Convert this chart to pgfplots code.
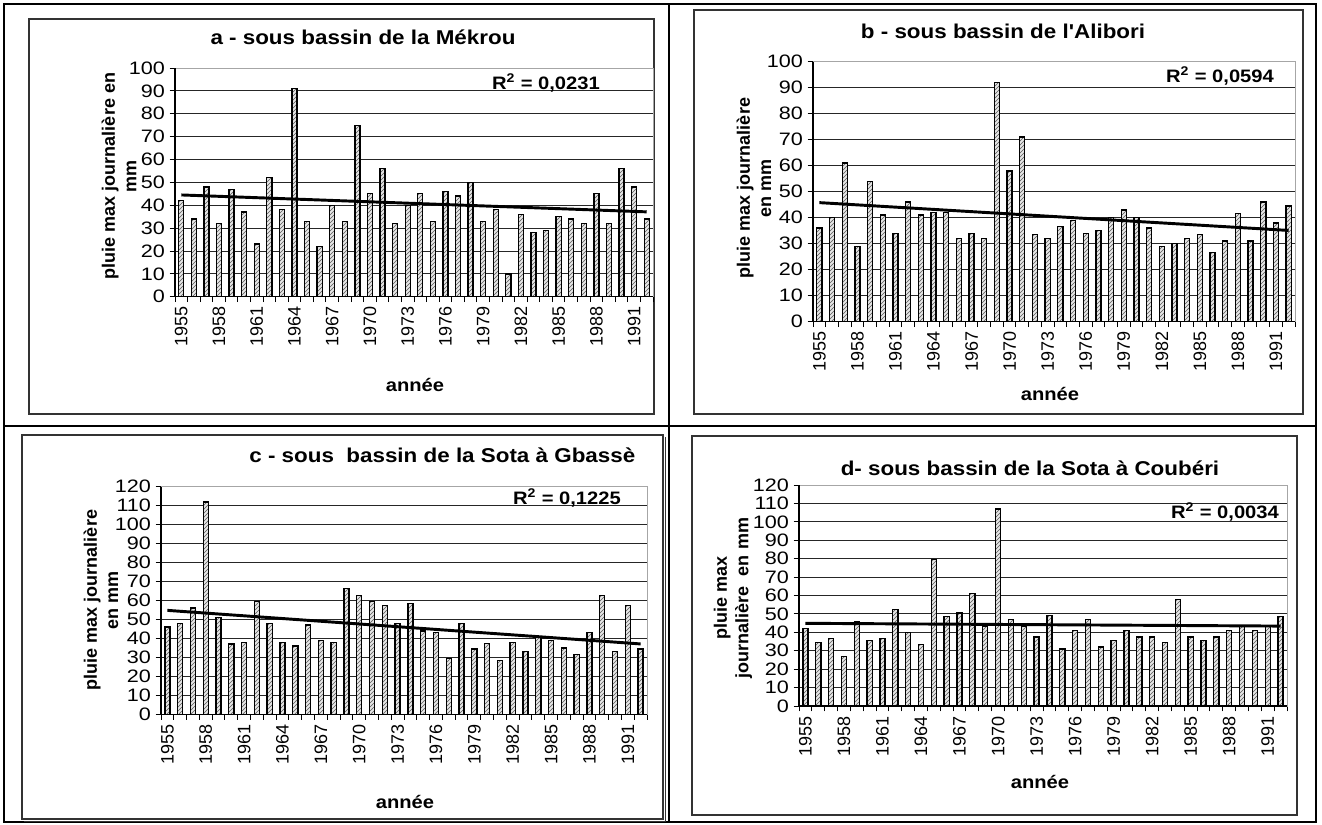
\documentclass[border=0pt]{standalone}
\usepackage{fontspec}
\setmainfont{Liberation Sans}
\newfontfamily\widefam[FakeStretch=1.12]{Liberation Sans}
\newfontfamily\tickfam[FakeStretch=1.2]{Liberation Sans}
\usepackage{pgfplots}
\usepackage{pgfplotstable}
\pgfplotsset{compat=1.18}
\usetikzlibrary{patterns}

% pluie max journaliere, 1955-1992
\pgfplotstableread{
year val
1955 42
1956 34
1957 48
1958 32
1959 47
1960 37
1961 23
1962 52
1963 38
1964 91
1965 33
1966 22
1967 40
1968 33
1969 75
1970 45
1971 56
1972 32
1973 40
1974 45
1975 33
1976 46
1977 44
1978 50
1979 33
1980 38
1981 10
1982 36
1983 28
1984 29
1985 35
1986 34
1987 32
1988 45
1989 32
1990 56
1991 48
1992 34
}\dataA

\pgfplotstableread{
year val
1955 36
1956 40
1957 61
1958 29
1959 54
1960 41
1961 34
1962 46
1963 41
1964 42
1965 42
1966 32
1967 34
1968 32
1969 92
1970 58
1971 71
1972 33.5
1973 32
1974 36.5
1975 39
1976 34
1977 35
1978 40
1979 43
1980 40
1981 36
1982 29
1983 30
1984 32
1985 33.5
1986 26.5
1987 31
1988 41.5
1989 31
1990 46
1991 38
1992 44.5
}\dataB

\pgfplotstableread{
year val
1955 46
1956 48
1957 56
1958 112
1959 51
1960 37
1961 38
1962 59.5
1963 48
1964 38
1965 36
1966 47
1967 39
1968 38
1969 66.5
1970 62.5
1971 59.5
1972 57.5
1973 48
1974 58.5
1975 44
1976 43
1977 29.5
1978 48
1979 34.5
1980 37.5
1981 28.5
1982 38
1983 33
1984 41
1985 39
1986 35
1987 31.5
1988 43
1989 62.5
1990 33
1991 57.5
1992 34.5
}\dataC

\pgfplotstableread{
year val
1955 42
1956 34.5
1957 36.5
1958 27
1959 46
1960 35.5
1961 36.5
1962 52.5
1963 40
1964 33.5
1965 79.5
1966 48.5
1967 50.5
1968 61
1969 43
1970 107
1971 47
1972 43
1973 37.5
1974 49
1975 31
1976 41
1977 47
1978 32
1979 35.5
1980 41
1981 37.5
1982 37.5
1983 34.5
1984 58
1985 37.5
1986 35.5
1987 37.5
1988 41
1989 43
1990 41
1991 43
1992 48.5
}\dataD

\newcommand\xtickfont{\fontsize{13.5}{15}\selectfont}
\newcommand\ytickfont{\tickfam\fontsize{13.5}{15}\selectfont}
\newcommand\labfont{\fontsize{13.5}{16}\selectfont\bfseries}
\newcommand\xlabfont{\widefam\fontsize{13.5}{15.5}\selectfont\bfseries}
\newcommand\titfont{\widefam\fontsize{15}{18}\selectfont\bfseries}
\newcommand\rfont{\widefam\fontsize{13.5}{16}\selectfont\bfseries}

\pgfplotsset{
  panel/.style={
    scale only axis,
    anchor=south west,
    xmin=1954.5, xmax=1992.5,
    ymin=0,
    axis line style={draw=gray!70, line width=0.6pt},
    xtick={1955,1958,...,1991},
    minor xtick={1954.5,1955.5,...,1992.5},
    xtick pos=bottom, ytick pos=left,
    major x tick style={draw=none},
    minor x tick style={black, line width=0.7pt},
    ytick style={black, line width=0.7pt},
    tick align=outside,
    major tick length=4pt,
    minor tick length=4pt,
    xticklabel style={rotate=90, anchor=east, font=\xtickfont,
      /pgf/number format/1000 sep={}},
    yticklabel style={font=\ytickfont},
    /pgf/number format/assume math mode=true,
    ymajorgrids,
    grid style={black!85, line width=0.7pt},
    clip=false,
  },
  bars/.style={ybar, bar width=0.4, bar shift=0pt, draw=black,
    line width=1pt, fill=gray!20,
    postaction={pattern=north east lines, pattern color=black!65}},
  trend/.style={black, line width=2.2pt},
}

\begin{document}
\begin{tikzpicture}[x=0.75pt,y=-0.75pt]
\useasboundingbox (0,0) rectangle (1322,825);

% tableau
\draw[line width=1.5pt] (4,4) rectangle (1316,822);
\draw[line width=1.5pt] (669,4) -- (669,822);
\draw[line width=1.5pt] (4,426) -- (1316,426);

% cadres des graphiques
\draw[line width=0.8pt, black!80] (29,19) rectangle (654,414);
\draw[line width=0.8pt, black!80] (694,10) rectangle (1303,414);
\draw[line width=0.8pt, black!80] (22,435) rectangle (663,819);
\draw[line width=0.8pt, black!80] (665.5,437) -- (665.5,821.5) -- (24,821.5);
\draw[line width=0.8pt, black!80] (692,436) rectangle (1297,815);

% a
\begin{axis}[panel, at={(131.25pt,-222.525pt)}, width=358.5pt, height=171.5pt,
  ymax=100, ytick={0,10,...,100}]
\addplot[bars] table[x=year, y=val] {\dataA};
\addplot[trend] coordinates {(1955,44.5) (1992,37.1)};
\draw[black, line width=0.8pt] (rel axis cs:0,0) -- (rel axis cs:0,1);
\draw[black, line width=0.8pt] (rel axis cs:0,0) -- (rel axis cs:1,0);
\end{axis}

% b
\begin{axis}[panel, at={(609.75pt,-241.275pt)}, width=361.5pt, height=195pt,
  ymax=100, ytick={0,10,...,100}]
\addplot[bars] table[x=year, y=val] {\dataB};
\addplot[trend] coordinates {(1955,45.8) (1992,35.1)};
\draw[black, line width=0.8pt] (rel axis cs:0,0) -- (rel axis cs:0,1);
\draw[black, line width=0.8pt] (rel axis cs:0,0) -- (rel axis cs:1,0);
\end{axis}

% c
\begin{axis}[panel, at={(120.75pt,-535.725pt)}, width=364.5pt, height=170.7pt,
  ymax=120, ytick={0,10,...,120}]
\addplot[bars] table[x=year, y=val] {\dataC};
\addplot[trend] coordinates {(1955,54.8) (1992,37.1)};
\draw[black, line width=0.8pt] (rel axis cs:0,0) -- (rel axis cs:0,1);
\draw[black, line width=0.8pt] (rel axis cs:0,0) -- (rel axis cs:1,0);
\end{axis}

% d
\begin{axis}[panel, at={(599.25pt,-529.5pt)}, width=366pt, height=165.75pt,
  ymax=120, ytick={0,10,...,120}]
\addplot[bars] table[x=year, y=val] {\dataD};
\addplot[trend] coordinates {(1955,44.9) (1992,43.4)};
\draw[black, line width=0.8pt] (rel axis cs:0,0) -- (rel axis cs:0,1);
\draw[black, line width=0.8pt] (rel axis cs:0,0) -- (rel axis cs:1,0);
\end{axis}

% titres
\node[font=\titfont] at (363,37) {a - sous bassin de la Mékrou};
\node[font=\titfont] at (1003,31) {b - sous bassin de l'Alibori};
\node[font=\titfont, anchor=east] at (640,455) {c - sous\ \ bassin de la Sota à Gbassè};
\node[font=\titfont] at (1030,468) {d- sous bassin de la Sota à Coubéri};

% R2
\node[font=\rfont] at (546,83) {R\textsuperscript{2} = 0,0231};
\node[font=\rfont] at (1220,76) {R\textsuperscript{2} = 0,0594};
\node[font=\rfont] at (567,498) {R\textsuperscript{2} = 0,1225};
\node[font=\rfont] at (1225,512) {R\textsuperscript{2} = 0,0034};

% titres des axes
\node[font=\labfont, rotate=90, align=center] at (119,176) {pluie max journalière en\\mm};
\node[font=\labfont, rotate=90, align=center] at (754,188) {pluie max journalière\\en mm};
\node[font=\labfont, rotate=90, align=center] at (101,600) {pluie max journalière\\en mm};
\node[font=\labfont, rotate=90, align=center] at (733,598) {pluie max\\journalière\ \ en mm};
\node[font=\xlabfont] at (415,385) {année};
\node[font=\xlabfont] at (1050,394) {année};
\node[font=\xlabfont] at (405,802) {année};
\node[font=\xlabfont] at (1040,782) {année};
\end{tikzpicture}
\end{document}
